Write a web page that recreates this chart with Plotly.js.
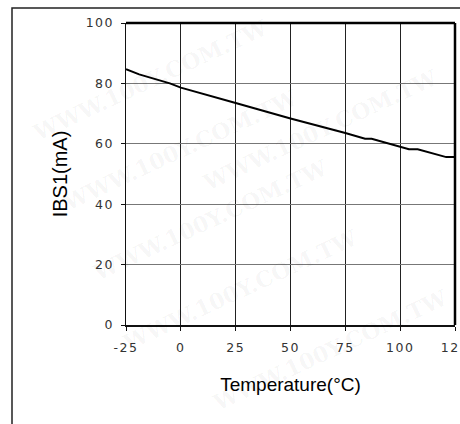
<!DOCTYPE html>
<html><head><meta charset="utf-8">
<script src="https://cdn.plot.ly/plotly-3.0.1.min.js"></script>
<style>
html,body{margin:0;padding:0;background:#fff;}
#chart{width:460px;height:424px;}
.xtick text,.ytick text{letter-spacing:1.5px;}
</style></head>
<body><div id="chart"></div>
<script>
const temperature = [-25, -19, -5, 0, 25, 50, 75, 84, 87, 100, 104, 108, 121, 125];
const ibs1 = [84.7, 83.0, 80.0, 78.6, 73.5, 68.4, 63.6, 61.7, 61.7, 59.2, 58.2, 58.2, 55.6, 55.6];
const xTickVals = [-25, 0, 25, 50, 75, 100, 125];
const xTickText = ['-25', '0', '25', '50', '75', '100', '125'];
const yTickVals = [0, 20, 40, 60, 80, 100];
const yTickText = ['0', '20', '40', '60', '80', '100'];
const watermarkText = 'WWW.100Y.COM.TW';

const trace = {
  x: temperature, y: ibs1, type: 'scatter', mode: 'lines',
  line: {color: '#000', width: 2}, hoverinfo: 'skip'
};
const tickFont = {family: 'DejaVu Sans', size: 12.5, color: '#333'};

// faint diagonal watermark tiles (pixel positions on the page), kept inside the page
const wmAnn = [];
const wmCenters = [[150,80],[180,150],[210,220],[240,290],[320,130],[330,350]];
wmCenters.forEach(([px, py]) => {
  wmAnn.push({
    text: watermarkText, showarrow: false, xref: 'paper', yref: 'paper',
    x: (px - 126) / 329, y: (325 - py) / 302, xanchor: 'center', yanchor: 'middle',
    textangle: -25,
    font: {family: 'DejaVu Serif', size: 22, color: 'rgba(0,0,0,0.045)', weight: 'bold'}
  });
});

const layout = {
  width: 460, height: 424,
  margin: {l: 126, r: 5, t: 23, b: 99},
  paper_bgcolor: '#fff', plot_bgcolor: 'rgba(0,0,0,0)',
  showlegend: false,
  xaxis: {
    range: [-25, 125], tickvals: xTickVals, ticktext: xTickText,
    showgrid: true, gridcolor: '#222', gridwidth: 1,
    showline: true, linecolor: '#111', linewidth: 1.5, mirror: false,
    ticks: 'outside', ticklen: 4, tickcolor: '#111', tickfont: tickFont,
    ticklabelstandoff: 6, ticklabeloverflow: 'allow',
    zeroline: false,
    title: {text: 'Temperature(°C)', font: {family: 'Liberation Sans, Arial', size: 19, color: '#000'}, standoff: 24}
  },
  yaxis: {
    range: [0, 100], tickvals: yTickVals, ticktext: yTickText,
    showgrid: true, gridcolor: '#777', gridwidth: 1,
    showline: true, linecolor: '#111', linewidth: 1.5, mirror: false,
    ticks: 'outside', ticklen: 4, tickcolor: '#111', tickfont: tickFont,
    ticklabelstandoff: 4,
    zeroline: false,
    title: {text: 'IBS1(mA)', font: {family: 'Liberation Sans, Arial', size: 20, color: '#000'}, standoff: 12}
  },
  annotations: wmAnn,
  shapes: [
    {type: 'line', xref: 'paper', yref: 'paper', x0: 0, x1: 1, y0: 1, y1: 1, line: {color: '#000', width: 2.5}},
    {type: 'line', xref: 'paper', yref: 'paper', x0: 1, x1: 1, y0: 0, y1: 1, line: {color: '#000', width: 2.5}},
    {type: 'rect', xref: 'paper', yref: 'paper', x0: -0.3465, x1: 1.05, y0: -0.36, y1: 1.0497, line: {color: '#222', width: 1.5}, layer: 'below'}
  ]
};
Plotly.newPlot('chart', [trace], layout, {staticPlot: true, displayModeBar: false});
</script></body></html>
